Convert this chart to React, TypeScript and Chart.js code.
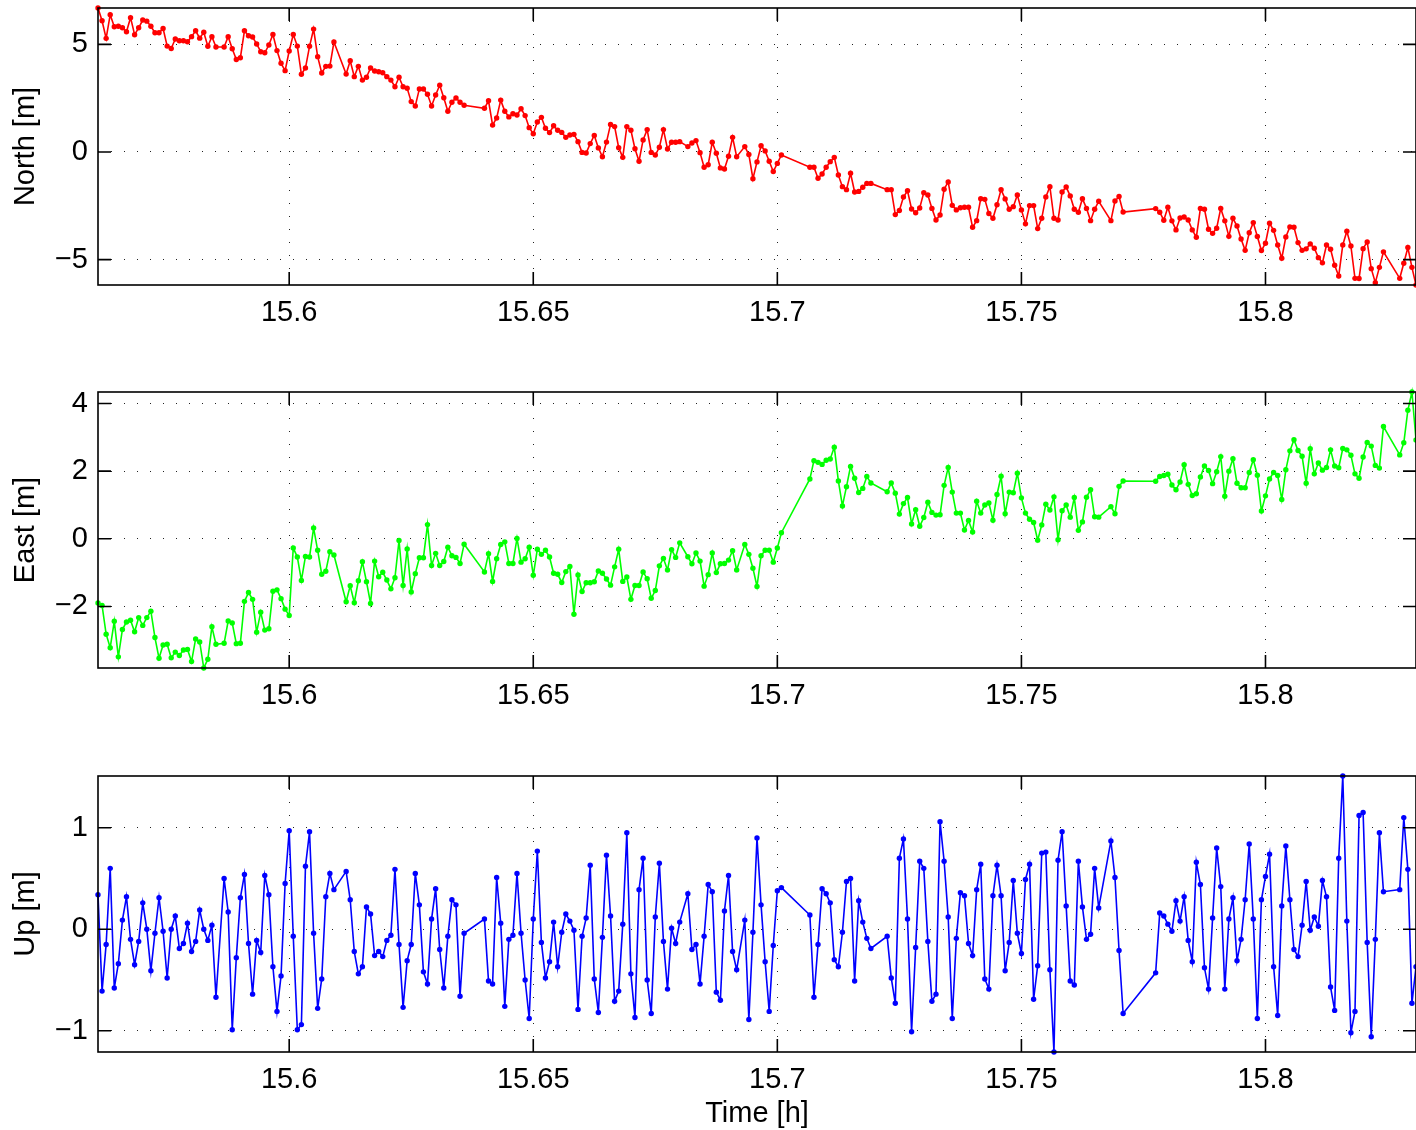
import React, { useEffect, useRef } from 'react';
import { Chart, registerables } from 'chart.js';

Chart.register(...registerables);

// Sampling: one epoch every 3 s, starting at 56019 s of day (15.5608 h). null = missing epoch.
const EPOCH_START_S = 56019;
const EPOCH_STEP_S = 3;

const X_TICKS = [15.6, 15.65, 15.7, 15.75, 15.8];
const NORTH_TICKS = [-5, 0, 5];
const EAST_TICKS = [-2, 0, 2, 4];
const UP_TICKS = [-1, 0, 1];

const north: (number | null)[] = [
  6.69, 6.10, 5.28, 6.38, 5.82, 5.84, 5.77, 5.59, 6.24, 5.45,
  5.77, 6.13, 6.08, 5.84, 5.54, 5.54, 5.74, 4.92, 4.81, 5.25,
  5.17, 5.17, 5.12, 5.36, 5.63, 5.29, 5.56, 4.91, 5.36, 4.88,
  null, 4.88, 5.36, 4.80, 4.30, 4.38, 5.63, 5.40, 5.34, 5.02,
  4.66, 4.61, 4.97, 5.46, 4.71, 4.12, 3.78, 4.69, 5.46, 4.92,
  3.61, 3.90, 4.91, 5.71, 4.43, 3.67, 3.98, 3.99, 5.11, null,
  null, 3.62, 4.24, 3.50, 3.98, 3.34, 3.47, 3.90, 3.76, 3.73,
  3.68, 3.50, 3.34, 3.03, 3.47, 3.03, 2.96, 2.34, 2.14, 2.93,
  2.93, 2.68, 2.14, 2.65, 3.10, 2.52, 1.89, 2.31, 2.51, 2.31,
  2.17, null, null, null, null, 2.03, 2.38, 1.25, 1.58, 2.41,
  1.89, 1.63, 1.78, 1.72, 2.01, 1.69, 1.13, 0.85, 1.39, 1.61,
  1.10, 0.90, 1.22, 1.01, 0.91, 0.68, 0.79, 0.82, 0.48, -0.02,
  -0.05, 0.39, 0.77, 0.19, -0.22, 0.46, 1.28, 1.18, 0.20, -0.25,
  1.18, 1.01, 0.15, -0.43, 0.56, 1.04, -0.02, -0.14, 0.22, 1.04,
  0.14, 0.45, 0.45, 0.48, null, 0.25, 0.42, 0.53, -0.03, -0.71,
  -0.59, 0.45, -0.06, -0.74, -0.79, -0.20, 0.68, -0.22, null, 0.25,
  -0.12, -1.24, -0.46, 0.29, 0.05, -0.43, -0.91, -0.53, -0.14, null,
  null, null, null, null, null, -0.71, -0.71, -1.22, -1.02, -0.71,
  -0.45, -0.25, -1.07, -1.61, -1.75, -0.99, -1.86, -1.83, -1.64, -1.46,
  -1.46, null, null, null, -1.75, -1.75, -2.91, -2.72, -2.09, -1.80,
  -2.65, -2.82, -2.60, -1.89, -2.00, -2.62, -3.16, -2.93, -1.73, -1.39,
  -2.48, -2.69, -2.59, -2.57, -2.57, -3.50, -3.19, -2.17, -2.20, -2.86,
  -3.08, -2.45, -1.75, -2.18, -2.66, -2.54, -2.00, -2.69, -3.34, -2.49,
  -2.49, -3.56, -3.08, -2.09, -1.61, -3.08, -3.16, -1.86, -1.63, -2.04,
  -2.66, -2.80, -2.17, -2.62, -3.19, -2.66, -2.29, null, null, -3.19,
  -2.28, -2.07, -2.79, null, null, null, null, null, null, null,
  -2.63, -2.80, -3.17, -2.57, -3.20, -3.62, -3.07, -3.02, -3.16, -3.62,
  -3.96, -2.62, -2.66, -3.59, -3.78, -3.54, -2.62, -3.20, -3.92, -3.08,
  -3.44, -4.04, -4.57, -3.75, -3.28, -3.93, -4.58, -4.24, -3.31, -3.64,
  -4.32, -4.94, -3.95, -3.48, -3.50, -4.21, -4.57, -4.50, -4.27, -4.47,
  -4.91, -5.15, -4.32, -4.52, -5.26, -5.76, -4.32, -3.68, -4.37, -5.87,
  -5.88, -4.49, -4.18, -5.42, -6.07, -5.36, -4.64, null, null, null,
  -5.87, -5.17, -4.44, -5.36, -6.18,
];

const east: (number | null)[] = [
  -1.90, -1.97, -2.82, -3.22, -2.44, -3.49, -2.68, -2.46, -2.41, -2.75,
  -2.33, -2.56, -2.33, -2.14, -2.92, -3.53, -3.14, -3.12, -3.52, -3.35,
  -3.45, -3.29, -3.27, -3.63, -2.96, -3.05, -3.82, -3.56, -2.60, -3.12,
  null, -3.09, -2.43, -2.49, -3.10, -3.09, -1.85, -1.59, -1.79, -2.76,
  -2.17, -2.70, -2.66, -1.55, -1.51, -1.77, -2.08, -2.27, -0.27, -0.54,
  -1.23, -0.52, -0.54, 0.32, -0.34, -1.05, -0.96, -0.38, -0.48, null,
  null, -1.86, -1.39, -1.89, -1.24, -0.68, -1.27, -1.91, -0.66, -1.12,
  -0.99, -1.22, -1.48, -1.15, -0.05, -1.38, -0.30, -1.57, -1.03, -0.56,
  -0.56, 0.42, -0.79, -0.43, -0.79, -0.67, -0.25, -0.50, -0.55, -0.73,
  -0.16, null, null, null, null, -0.98, -0.44, -1.26, -0.59, -0.17,
  -0.09, -0.73, -0.73, 0.01, -0.69, -0.59, -0.25, -1.08, -0.31, -0.46,
  -0.34, -0.54, -1.02, -1.05, -1.29, -0.97, -0.82, -2.23, -1.07, -1.56,
  -1.30, -1.30, -1.27, -0.95, -1.02, -1.19, -1.37, -0.83, -0.31, -1.26,
  -1.13, -1.79, -1.38, -1.38, -0.98, -1.18, -1.76, -1.53, -0.80, -0.58,
  -0.92, -0.32, -0.55, -0.12, null, -0.53, -0.74, -0.42, -0.66, -1.40,
  -1.06, -0.42, -1.00, -0.74, -0.73, -0.63, -0.35, -0.92, null, -0.17,
  -0.46, -0.87, -1.41, -0.50, -0.34, -0.34, -0.69, -0.27, 0.18, null,
  null, null, null, null, null, 1.77, 2.31, 2.26, 2.20, 2.32,
  2.36, 2.71, 1.71, 0.97, 1.54, 2.14, 1.79, 1.37, 1.49, 1.84,
  1.65, null, null, null, 1.39, 1.65, 1.35, 0.73, 1.04, 1.22,
  0.44, 0.86, 0.37, 0.63, 1.08, 0.78, 0.70, 0.71, 1.58, 2.11,
  1.38, 0.76, 0.76, 0.26, 0.54, 0.20, 1.11, 0.76, 1.00, 1.06,
  0.55, 1.31, 1.85, 0.74, 1.38, 1.36, 1.94, 1.21, 0.76, 0.58,
  0.48, -0.04, 0.41, 1.02, 0.85, 1.24, -0.03, 0.83, 1.00, 0.64,
  1.22, 0.25, 0.50, 1.23, 1.45, 0.65, 0.64, null, null, 0.95,
  0.74, 1.55, 1.71, null, null, null, null, null, null, null,
  1.70, 1.84, 1.87, 1.91, 1.59, 1.45, 1.68, 2.19, 1.61, 1.28,
  1.33, 1.83, 2.15, 2.02, 1.63, 1.98, 2.43, 1.26, 2.00, 2.37,
  1.64, 1.51, 1.51, 1.96, 2.34, 1.88, 0.82, 1.27, 1.77, 1.96,
  1.87, 1.16, 2.04, 2.60, 2.93, 2.61, 2.44, 1.64, 2.66, 1.92,
  2.24, 2.03, 2.11, 2.63, 2.15, 2.10, 2.67, 2.63, 2.47, 1.92,
  1.79, 2.42, 2.85, 2.74, 2.17, 2.09, 3.32, null, null, null,
  2.48, 2.84, 3.80, 4.34, 2.92,
];

const up: (number | null)[] = [
  0.34, -0.61, -0.15, 0.60, -0.58, -0.34, 0.09, 0.32, -0.10, -0.35,
  -0.12, 0.26, 0.00, -0.41, -0.04, 0.31, -0.02, -0.48, 0.00, 0.13,
  -0.19, -0.14, 0.06, -0.22, -0.12, 0.19, 0.00, -0.11, 0.04, -0.67,
  null, 0.50, 0.17, -0.99, -0.28, 0.31, 0.54, -0.14, -0.64, -0.11,
  -0.23, 0.53, 0.34, -0.37, -0.81, -0.46, 0.45, 0.97, -0.07, -0.99,
  -0.94, 0.62, 0.96, -0.04, -0.78, -0.49, 0.32, 0.55, 0.39, null,
  null, 0.57, 0.29, -0.22, -0.44, -0.37, 0.22, 0.15, -0.26, -0.22,
  -0.27, -0.11, -0.06, 0.59, -0.15, -0.77, -0.31, -0.15, 0.55, 0.24,
  -0.42, -0.54, 0.10, 0.40, -0.20, -0.58, -0.07, 0.29, 0.24, -0.66,
  -0.04, null, null, null, null, 0.10, -0.51, -0.54, 0.51, 0.06,
  -0.76, -0.10, -0.06, 0.55, -0.04, -0.50, -0.88, 0.10, 0.77, -0.13,
  -0.48, -0.32, 0.07, -0.37, -0.03, 0.15, 0.08, -0.01, -0.79, -0.07,
  0.11, 0.63, -0.49, -0.82, -0.08, 0.73, 0.13, -0.71, -0.61, 0.05,
  0.95, -0.44, -0.87, 0.39, 0.70, -0.50, -0.83, 0.12, 0.65, -0.12,
  -0.59, 0.01, -0.14, 0.07, null, 0.35, -0.20, -0.15, -0.54, -0.07,
  0.44, 0.37, -0.62, -0.70, 0.18, 0.53, -0.22, -0.40, null, 0.09,
  -0.89, -0.03, 0.90, 0.24, -0.32, -0.81, -0.16, 0.38, 0.41, null,
  null, null, null, null, null, 0.14, -0.67, -0.15, 0.40, 0.35,
  0.26, -0.30, -0.37, -0.03, 0.47, 0.50, -0.51, 0.28, 0.07, -0.09,
  -0.19, null, null, null, -0.07, -0.48, -0.73, 0.70, 0.89, 0.10,
  -1.01, -0.18, 0.67, 0.60, -0.12, -0.71, -0.64, 1.06, 0.67, 0.12,
  -0.88, -0.09, 0.36, 0.33, -0.14, -0.26, 0.39, 0.64, -0.49, -0.59,
  0.33, 0.63, 0.33, -0.41, -0.13, 0.48, -0.04, -0.24, 0.49, 0.64,
  -0.69, -0.36, 0.75, 0.76, -0.40, -1.21, 0.68, 0.96, 0.23, -0.51,
  -0.55, 0.67, 0.22, -0.10, -0.05, 0.60, 0.21, null, null, 0.87,
  0.51, -0.21, -0.83, null, null, null, null, null, null, null,
  -0.43, 0.16, 0.13, 0.05, -0.02, 0.28, 0.08, 0.32, -0.11, -0.32,
  0.66, 0.44, -0.38, -0.59, 0.11, 0.80, 0.42, -0.59, 0.10, 0.31,
  -0.31, -0.10, 0.29, 0.84, 0.10, -0.88, 0.29, 0.52, 0.74, -0.37,
  -0.85, 0.23, 0.82, 0.29, -0.20, -0.27, 0.04, 0.47, -0.01, 0.12,
  0.03, 0.48, 0.32, -0.57, -0.80, 0.70, 1.51, 0.08, -1.02, -0.81,
  1.12, 1.15, -0.13, -1.06, -0.10, 0.95, 0.37, null, null, null,
  0.39, 1.10, 0.59, -0.73, -0.37,
];

const FONT_FAMILY = '"Liberation Sans", Arial, Helvetica, sans-serif';
const FONT_SIZE = 29;
const WIDTH = 1416;
const PLOT_LEFT = 98;
const TICK_LEN = 13;

const framePlugin = {
  id: 'matlabFrame',
  afterDraw(chart: any) {
    const { ctx, chartArea: a, scales } = chart;
    ctx.save();
    ctx.strokeStyle = '#000';
    ctx.lineWidth = 1.6;
    ctx.strokeRect(a.left, a.top, a.right - a.left, a.bottom - a.top);
    ctx.beginPath();
    for (const t of scales.x.ticks) {
      const px = scales.x.getPixelForValue(t.value);
      ctx.moveTo(px, a.bottom);
      ctx.lineTo(px, a.bottom - TICK_LEN);
      ctx.moveTo(px, a.top);
      ctx.lineTo(px, a.top + TICK_LEN);
    }
    for (const t of scales.y.ticks) {
      const py = scales.y.getPixelForValue(t.value);
      ctx.moveTo(a.left, py);
      ctx.lineTo(a.left + TICK_LEN, py);
      ctx.moveTo(a.right, py);
      ctx.lineTo(a.right - TICK_LEN, py);
    }
    ctx.stroke();
    ctx.restore();
  },
};

const zeroPadding = (s: any) => {
  s.paddingTop = 0;
  s.paddingBottom = 0;
  s.paddingLeft = 0;
  s.paddingRight = 0;
};

type PanelProps = {
  values: (number | null)[];
  color: string;
  yTicks: number[];
  yTitle: string;
  xTitle?: string;
  top: number;
  height: number;
  plotTop: number;
  plotBottom: number;
};

function Panel({ values, color, yTicks, yTitle, xTitle, top, height, plotTop, plotBottom }: PanelProps) {
  const ref = useRef<HTMLCanvasElement>(null);
  useEffect(() => {
    if (!ref.current) return;
    const pts: { x: number; y: number }[] = [];
    values.forEach((v, i) => {
      if (v !== null) pts.push({ x: (EPOCH_START_S + i * EPOCH_STEP_S) / 3600, y: v });
    });
    const xs = pts.map((p) => p.x);
    const ys = pts.map((p) => p.y);
    const font = { family: FONT_FAMILY, size: FONT_SIZE };
    const chart = new Chart(ref.current, {
      type: 'line',
      data: {
        datasets: [
          {
            data: pts,
            borderColor: color,
            backgroundColor: color,
            borderWidth: 1.6,
            pointRadius: 2.7,
            pointBorderWidth: 0,
            pointHoverRadius: 2.7,
            tension: 0,
            clip: false as any,
          },
        ],
      },
      options: {
        responsive: false,
        animation: false,
        events: [],
        layout: { padding: { top: plotTop - top, left: 0, right: 0, bottom: 0 }, autoPadding: false },
        plugins: { legend: { display: false }, tooltip: { enabled: false } },
        scales: {
          x: {
            type: 'linear',
            min: Math.min(...xs),
            max: Math.max(...xs),
            afterBuildTicks: (s: any) => {
              s.ticks = X_TICKS.map((v) => ({ value: v }));
            },
            afterFit: (s: any) => {
              s.height = top + height - plotBottom;
              zeroPadding(s);
            },
            ticks: {
              color: '#000',
              font,
              padding: 11,
              maxRotation: 0,
              autoSkip: false,
              callback: (v: any) => String(v),
            },
            grid: { display: true, drawTicks: false, color: '#222', lineWidth: 1 },
            border: { display: false, dash: [1, 12] },
            title: {
              display: !!xTitle,
              text: xTitle || '',
              color: '#000',
              font,
              padding: { top: 0, bottom: -1 },
            },
          },
          y: {
            type: 'linear',
            min: Math.min(...ys),
            max: Math.max(...ys),
            afterBuildTicks: (s: any) => {
              s.ticks = yTicks.map((v) => ({ value: v }));
            },
            afterFit: (s: any) => {
              s.width = PLOT_LEFT;
              zeroPadding(s);
            },
            ticks: {
              color: '#000',
              font,
              padding: 10,
              autoSkip: false,
              callback: (v: any) => (v < 0 ? '\u2212' + Math.abs(v) : String(v)),
            },
            grid: { display: true, drawTicks: false, color: '#222', lineWidth: 1 },
            border: { display: false, dash: [1, 12] },
            title: {
              display: true,
              text: yTitle,
              color: '#000',
              font,
              padding: { top: 9, bottom: 0 },
            },
          },
        },
      } as any,
      plugins: [framePlugin],
    });
    return () => chart.destroy();
  }, []);
  return (
    <canvas
      ref={ref}
      width={WIDTH}
      height={height}
      style={{ position: 'absolute', left: 0, top, display: 'block', width: WIDTH, height }}
    />
  );
}

export default function App() {
  return (
    <div style={{ position: 'absolute', left: 0, top: 0, width: WIDTH, height: 1130, background: '#fff', overflow: 'hidden' }}>
      <Panel values={north} color="#ff0000" yTicks={NORTH_TICKS} yTitle="North [m]" top={0} height={370} plotTop={8} plotBottom={285} />
      <Panel values={east} color="#00ff00" yTicks={EAST_TICKS} yTitle="East [m]" top={370} height={385} plotTop={392} plotBottom={668} />
      <Panel values={up} color="#0000ff" yTicks={UP_TICKS} yTitle="Up [m]" xTitle="Time [h]" top={755} height={375} plotTop={776} plotBottom={1052} />
    </div>
  );
}
